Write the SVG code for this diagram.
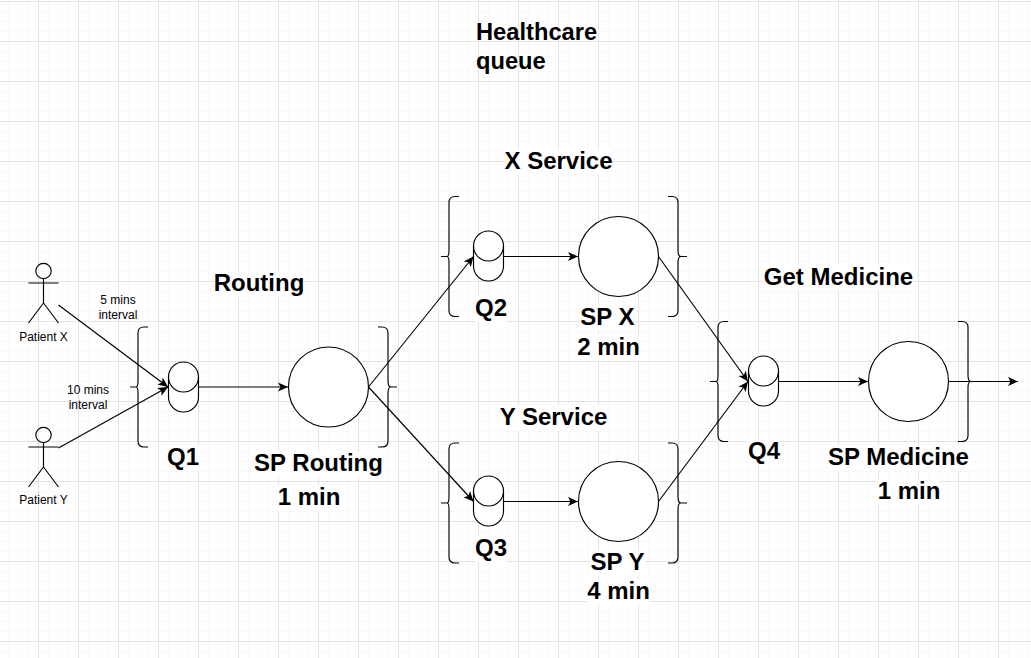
<svg xmlns="http://www.w3.org/2000/svg" width="1031" height="658" viewBox="0 0 1031 658">
<style>
.s{fill:none;stroke:#000;stroke-width:1.15}
.f{fill:#fff;stroke:#000;stroke-width:1.15}
.c{fill:none;stroke:#000;stroke-width:1.15;marker-end:url(#a)}
.k{fill:#fff;height:26px}
text{font-family:"Liberation Sans",Arial,sans-serif;fill:#000}
.b{font-size:24px;font-weight:700}
.m{text-anchor:middle}
.t{font-size:12px;text-anchor:middle}
</style>
<defs>
<marker id="a" markerUnits="userSpaceOnUse" markerWidth="12" markerHeight="12" refX="10" refY="5" orient="auto"><path d="M0 0.5L10 5L0 9.5L2.5 5Z" fill="#000"/></marker>
<pattern id="g" width="40" height="40" patternUnits="userSpaceOnUse" x="-2" y="1">
<path d="M10.5 0V40M20.5 0V40M30.5 0V40M0 10.5H40M0 20.5H40M0 30.5H40" stroke="#f9f9f9" fill="none"/>
<path d="M0.5 0V40M0 0.5H40" stroke="#e3e3e3" fill="none"/>
</pattern>
<g id="cyl"><path class="f" d="M0 15A15 15 0 0 1 30 15V35A15 15 0 0 1 0 35Z"/><path class="s" d="M0 15A15 15 0 0 0 30 15"/></g>
<g id="actor"><circle class="s" cx="15" cy="8" r="7.7"/><path class="s" d="M15 15.7V40M0 20H30M15 40L0 60M15 40L30 60"/></g>
<path id="bl" class="s" d="M18 0H14Q8 0 8 6V54Q8 60 6 60H0M6 60Q8 60 8 66V114Q8 120 14 120H18"/>
<path id="br" class="s" d="M0 0H4Q10 0 10 6V54Q10 60 13 60H19M13 60Q10 60 10 66V114Q10 120 4 120H0"/>
</defs>
<rect width="1031" height="658" fill="#fff"/>
<rect width="1031" height="658" fill="url(#g)"/>
<g id="connectors">
<path class="c" d="M58.5 305L168 387"/>
<path class="c" d="M58.5 448L168 387"/>
<path class="c" d="M198 387H288"/>
<path class="c" d="M368.5 387L473.5 256.5"/>
<path class="c" d="M368.5 387L473.5 501.5"/>
<path class="c" d="M503.5 256.5H578"/>
<path class="c" d="M503.5 501.5H578"/>
<path class="c" d="M658.5 256.5L748 381.5"/>
<path class="c" d="M658.5 501.5L748 381.5"/>
<path class="c" d="M778 381.5H868"/>
<path class="c" d="M948 381.5H1018"/>
</g>
<g id="patient-x"><use href="#actor" x="28.5" y="263"/><text class="t" x="43.5" y="341">Patient X</text></g>
<g id="patient-y"><use href="#actor" x="28.5" y="427"/><text class="t" x="43.5" y="504">Patient Y</text></g>
<g id="label-5"><text class="t" x="118" y="304">5 mins</text><text class="t" x="118" y="319">interval</text></g>
<g id="label-10"><text class="t" x="88" y="394">10 mins</text><text class="t" x="88" y="409">interval</text></g>
<g id="brace-q1"><use href="#bl" x="130" y="327"/></g>
<g id="brace-routing"><use href="#br" x="378" y="327"/></g>
<g id="brace-q2"><use href="#bl" x="441" y="196.5"/></g>
<g id="brace-spx"><use href="#br" x="668" y="196.5"/></g>
<g id="brace-q3"><use href="#bl" x="441" y="443"/></g>
<g id="brace-spy"><use href="#br" x="668" y="443"/></g>
<g id="brace-q4"><use href="#bl" x="710" y="321.5"/></g>
<g id="brace-med"><use href="#br" x="958" y="321.5"/></g>
<g id="q1"><use href="#cyl" x="168.5" y="362"/><rect class="k" x="167" y="445" width="32"/><text class="b m" x="183" y="465">Q1</text></g>
<g id="q2"><use href="#cyl" x="473.5" y="231"/><rect class="k" x="475" y="296" width="32"/><text class="b m" x="491" y="316">Q2</text></g>
<g id="q3"><use href="#cyl" x="473.5" y="476"/><rect class="k" x="475" y="536" width="32"/><text class="b m" x="491" y="556">Q3</text></g>
<g id="q4"><use href="#cyl" x="748.5" y="356"/><rect class="k" x="748" y="439" width="32"/><text class="b m" x="764" y="459">Q4</text></g>
<g id="sp-routing"><circle class="f" cx="328.5" cy="387" r="40"/><rect class="k" x="254" y="451" width="129"/><text class="b m" x="318.5" y="471">SP Routing</text><rect class="k" x="278" y="485" width="62"/><text class="b m" x="309" y="505">1 min</text></g>
<g id="sp-x"><circle class="f" cx="618.5" cy="256.5" r="40"/><rect class="k" x="580" y="305" width="56"/><text class="b m" x="607.5" y="325">SP X</text><rect class="k" x="577" y="335" width="63"/><text class="b m" x="608.5" y="355">2 min</text></g>
<g id="sp-y"><circle class="f" cx="618.5" cy="501.5" r="40"/><rect class="k" x="590" y="550" width="55"/><text class="b m" x="617.5" y="570">SP Y</text><rect class="k" x="587" y="579" width="63"/><text class="b m" x="618.5" y="599">4 min</text></g>
<g id="sp-medicine"><circle class="f" cx="908.5" cy="381.5" r="40"/><rect class="k" x="828" y="445" width="141"/><text class="b m" x="898.5" y="465">SP Medicine</text><rect class="k" x="878" y="479" width="62"/><text class="b m" x="909" y="499">1 min</text></g>
<g id="title"><text class="b" style="font-size:23.7px" x="476" y="40">Healthcare</text><text class="b" style="font-size:23.7px" x="476" y="69">queue</text></g>
<g id="x-service"><rect class="k" x="505" y="149" width="107"/><text class="b m" x="558.5" y="169">X Service</text></g>
<g id="y-service"><rect class="k" x="500" y="405" width="107"/><text class="b m" x="553.5" y="425">Y Service</text></g>
<g id="routing"><rect class="k" x="214" y="271" width="90"/><text class="b m" x="259" y="291">Routing</text></g>
<g id="get-medicine"><rect class="k" x="764" y="265" width="149"/><text class="b m" x="838.5" y="285">Get Medicine</text></g>
</svg>
